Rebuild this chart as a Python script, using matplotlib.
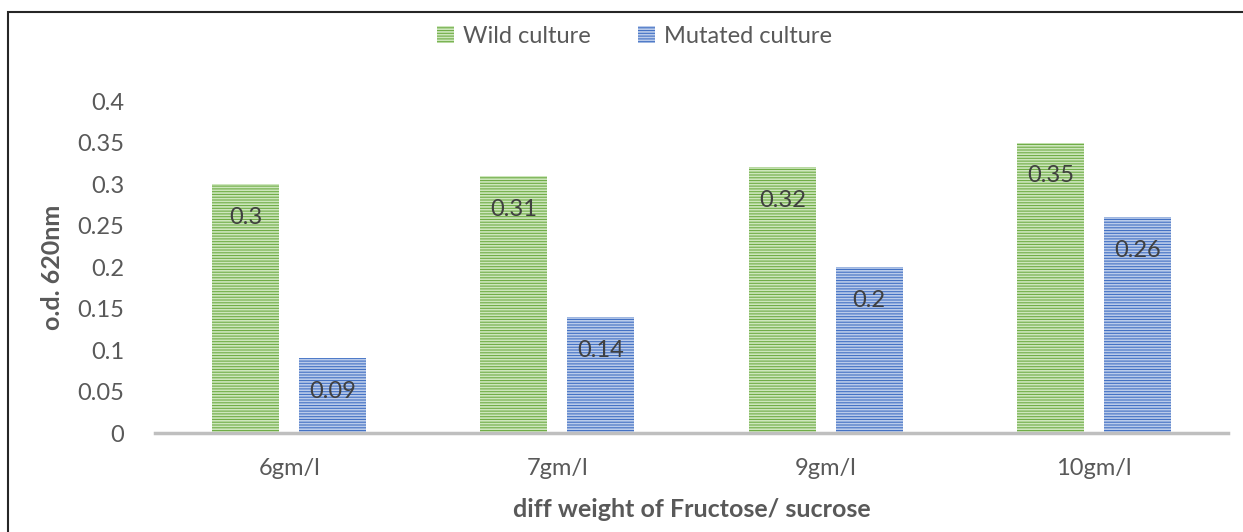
import matplotlib.pyplot as plt
import numpy as np
from matplotlib.patches import Rectangle

plt.rcParams['font.family'] = ['Lato', 'DejaVu Sans']
plt.rcParams['hatch.linewidth'] = 1.2

concentrations = ['6gm/l', '7gm/l', '9gm/l', '10gm/l']
wild = [0.3, 0.31, 0.32, 0.35]
mutated = [0.09, 0.14, 0.2, 0.26]

green = '#70AD47'
blue = '#4472C4'
text_grey = '#595959'

fig = plt.figure(figsize=(12.43, 5.32), dpi=100)
ax = fig.add_axes([0.1247, 0.186, 0.8633, 0.624])

x = np.arange(len(concentrations))
w = 0.25
off = 0.162

bars_w = ax.bar(x - off, wild, w, color=green, edgecolor='#CDE6BC',
                hatch='------', linewidth=0, label='Wild culture')
bars_m = ax.bar(x + off, mutated, w, color=blue, edgecolor='#BACBEA',
                hatch='------', linewidth=0, label='Mutated culture')

# value labels just inside the top of each bar
for bars, vals in ((bars_w, wild), (bars_m, mutated)):
    for b, v in zip(bars, vals):
        ax.annotate(f'{v:g}', (b.get_x() + b.get_width() / 2, v),
                    xytext=(0, -24), textcoords='offset points',
                    ha='center', va='center', fontsize=17, color='#404040')

ax.set_xlim(-0.5, 3.5)
ax.set_ylim(0, 0.4)
ax.set_yticks(np.arange(0, 0.401, 0.05))
ax.set_yticklabels(['0', '0.05', '0.1', '0.15', '0.2', '0.25', '0.3', '0.35', '0.4'])
ax.set_xticks(x)
ax.set_xticklabels(concentrations)
ax.tick_params(axis='both', length=0, labelsize=17, colors=text_grey)
ax.tick_params(axis='y', pad=22)
ax.tick_params(axis='x', pad=18)

for s in ('top', 'right', 'left'):
    ax.spines[s].set_visible(False)
ax.spines['bottom'].set_color('#BFBFBF')
ax.spines['bottom'].set_linewidth(2.5)

ax.set_xlabel('diff weight of Fructose/ sucrose', fontsize=18, fontweight='bold',
              color=text_grey, labelpad=14)
ax.set_ylabel('o.d. 620nm', fontsize=18, fontweight='bold', color=text_grey,
              labelpad=10)

ax.legend(loc='center', bbox_to_anchor=(0.447, 1.196), ncol=2, frameon=False,
          fontsize=17, handlelength=0.7, handleheight=0.7, handletextpad=0.4,
          columnspacing=2.0, labelcolor=text_grey)

# outer frame of the chart area
fig.patches.append(Rectangle((8 / 1243, -0.1), 1.2, 1 - 12 / 532 + 0.1,
                             transform=fig.transFigure, fill=False,
                             edgecolor='#262626', linewidth=1.5))

fig.savefig('out.png', dpi=100)
